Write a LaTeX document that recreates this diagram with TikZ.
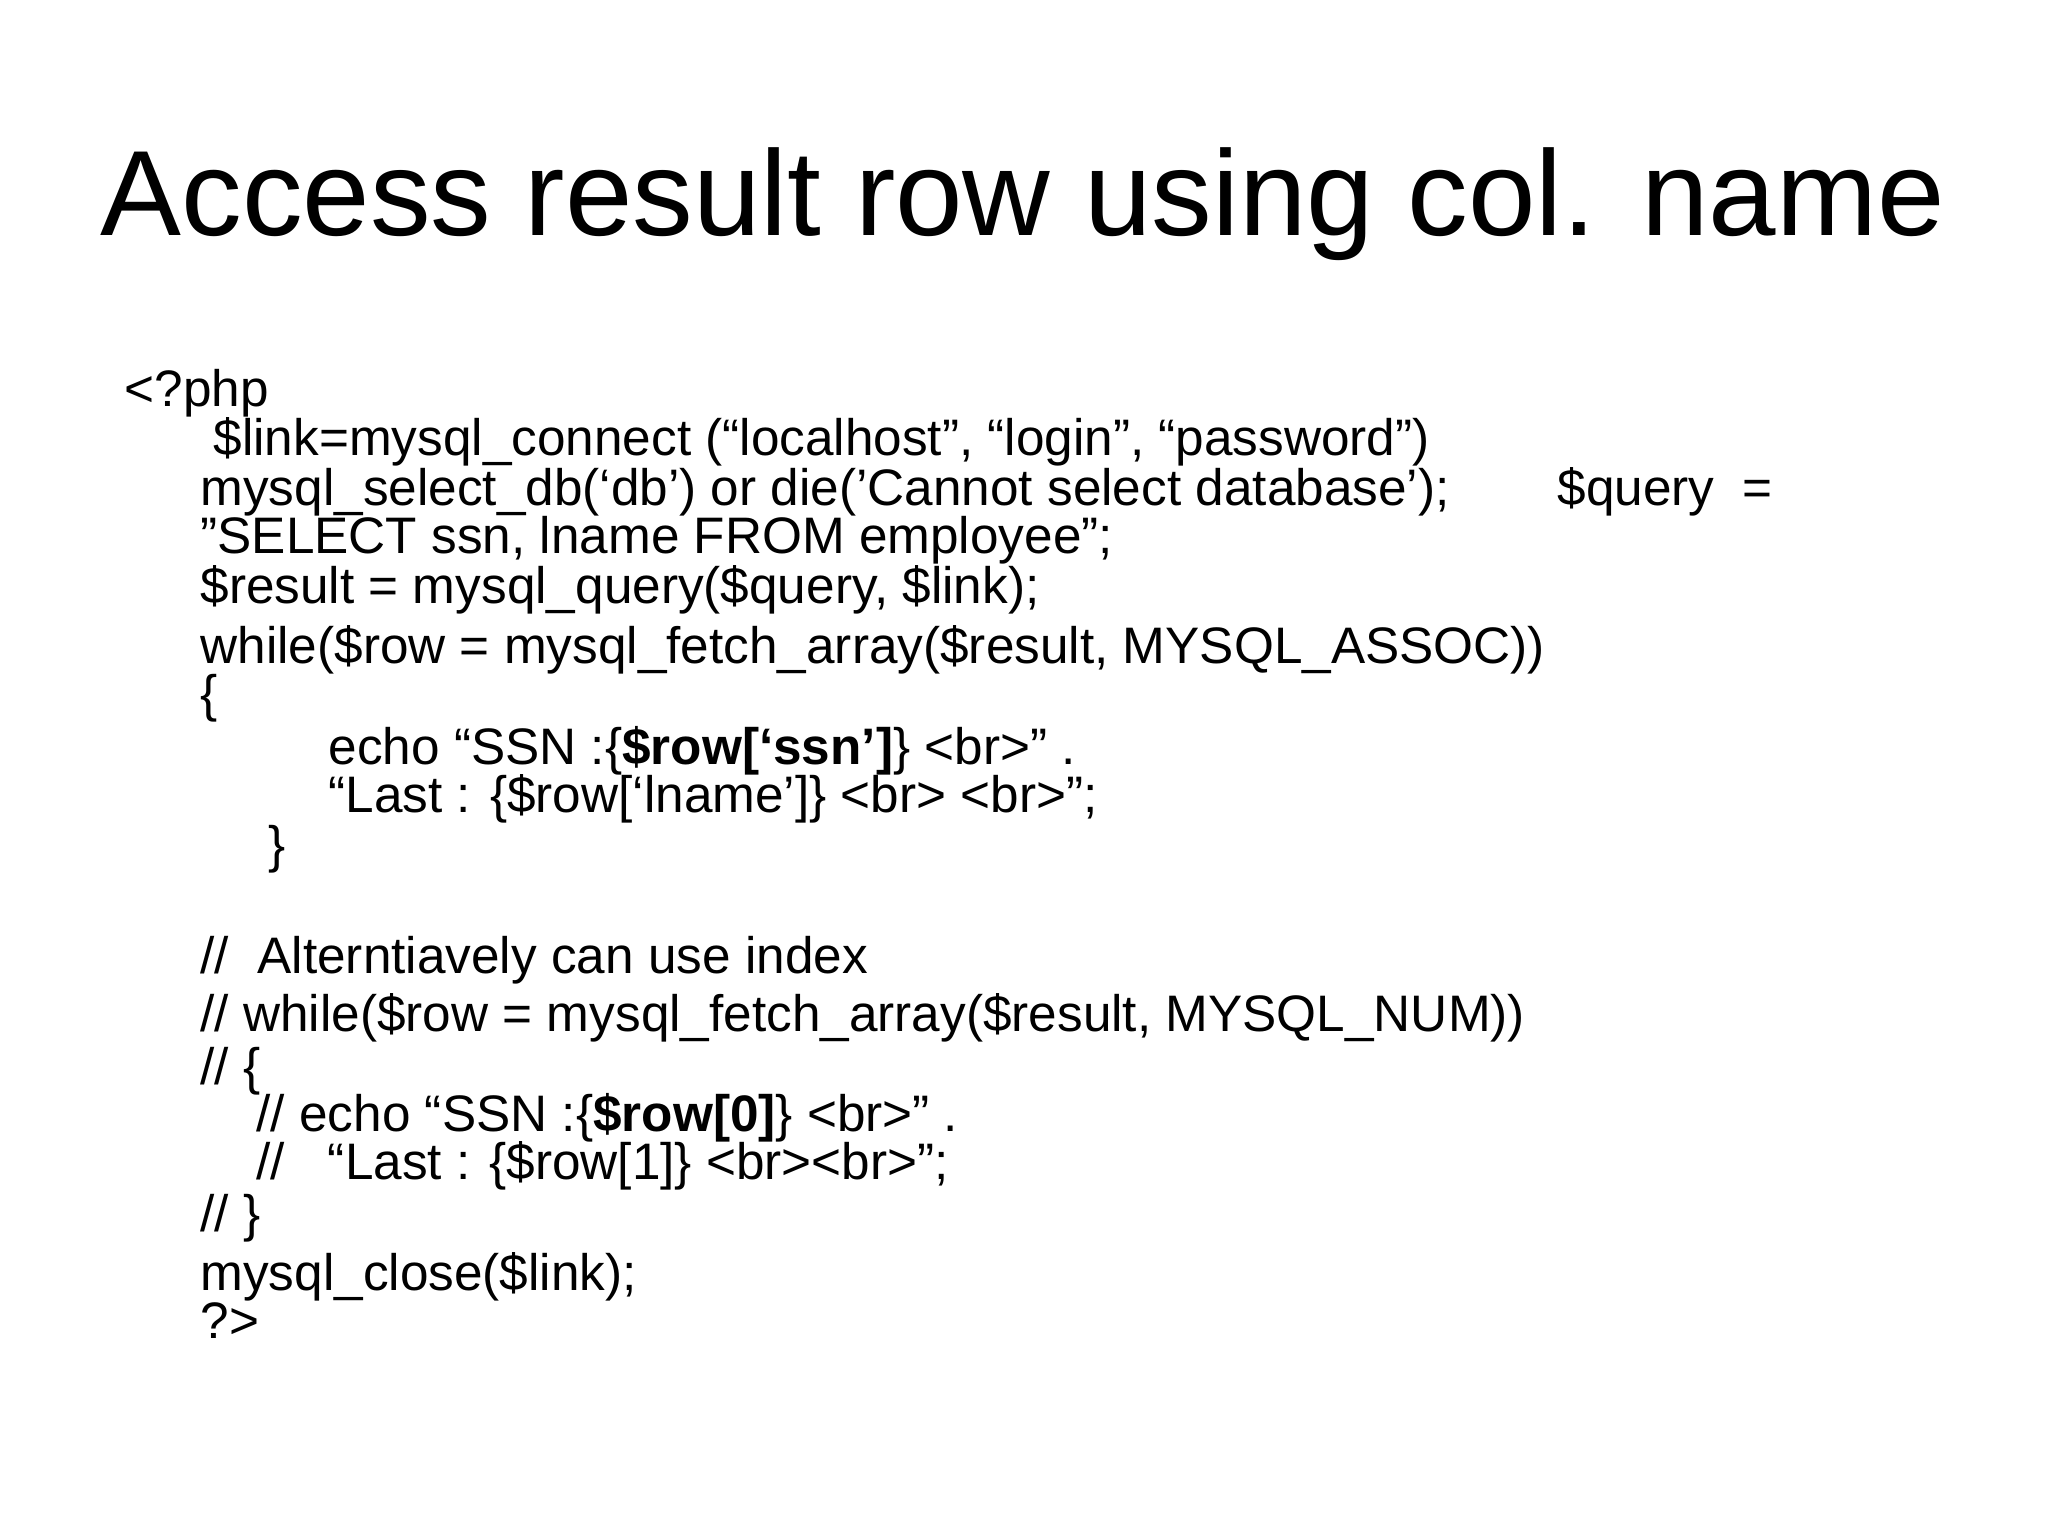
\documentclass[tikz,border=0pt]{standalone}
\usepackage{fontspec}
\setmainfont{Liberation Sans}
\begin{document}
\begin{tikzpicture}[x=0.01306cm,y=-0.01306cm,
  code/.style={anchor=base west,inner sep=0pt,font=\fontsize{14.6}{16}\selectfont}]
\useasboundingbox[fill=white] (0,0) rectangle (1568,1176);
\node[anchor=base,inner sep=0pt,font=\fontsize{34.5}{40}\selectfont] (title) at (783,180) {Access result row using col. name};
\node[code] (l1) at (95,311) {<?php};
\node[code] (l2) at (163,349) {\$link=mysql\_connect (“localhost”, “login”, “password”)};
\node[code] (l3) at (153,387) {mysql\_select\_db(‘db') or die('Cannot select database');};
\node[code] (l3b) at (1192,387) {\$query \ =};
\node[code] (l4) at (153,424) {"SELECT ssn, lname FROM employee";};
\node[code] (l5) at (153,462) {\$result = mysql\_query(\$query, \$link);};
\node[code] (l6) at (153,508) {while(\$row = mysql\_fetch\_array(\$result, MYSQL\_ASSOC))};
\node[code] (l7) at (153,545) {\{};
\node[code] (l8) at (251,585) {echo “SSN :\{\textbf{\$row[‘ssn']}\} <br>" .};
\node[code] (l9) at (251,622) {“Last : \{\$row[‘lname']\} <br> <br>";};
\node[code] (l10) at (205,660) {\}};
\node[code] (l11) at (153,745) {// \ Alterntiavely can use index};
\node[code] (l12) at (153,790) {// while(\$row = mysql\_fetch\_array(\$result, MYSQL\_NUM))};
\node[code] (l13) at (153,830) {// \{};
\node[code] (l14) at (196,866) {// echo “SSN :\{\textbf{\$row[0]}\} <br>" .};
\node[code] (l15) at (196,903) {// \ \ “Last : \{\$row[1]\} <br><br>";};
\node[code] (l16) at (153,943) {// \}};
\node[code] (l17) at (153,988) {mysql\_close(\$link);};
\node[code] (l18) at (153,1025) {?>};
\end{tikzpicture}
\end{document}
